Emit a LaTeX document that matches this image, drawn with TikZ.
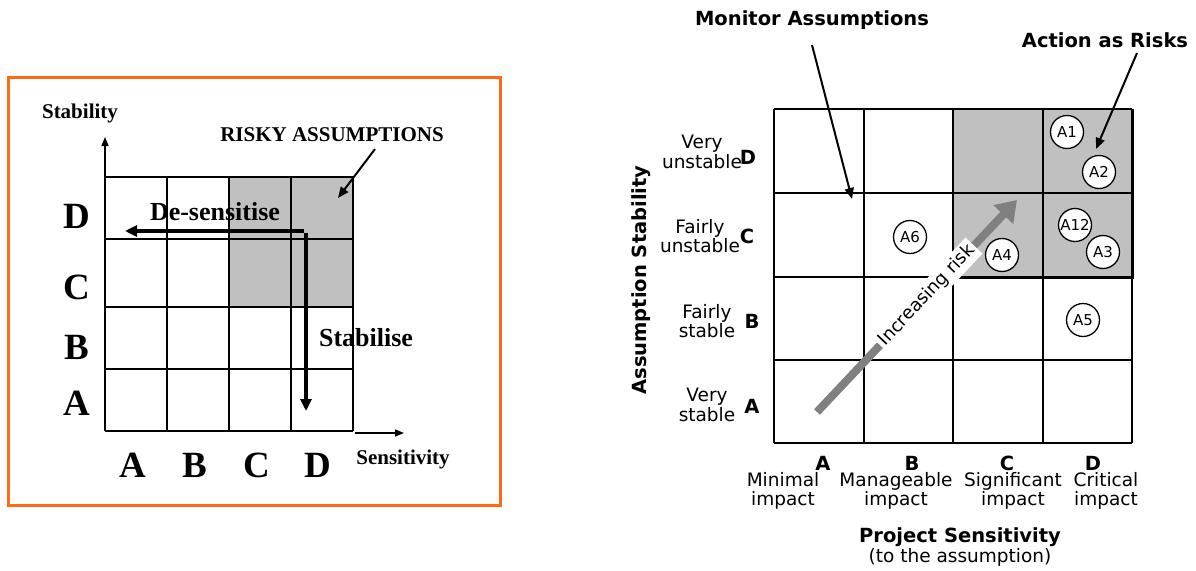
\documentclass[tikz,border=0pt]{standalone}
\usepackage{fontspec}
\setmainfont{Liberation Serif}
\newfontfamily\vsans{DejaVu Sans}
\usetikzlibrary{arrows.meta}
\definecolor{frameorange}{HTML}{FF6A13}
\definecolor{riskgray}{HTML}{C0C0C0}
\definecolor{arrowgray}{HTML}{808080}
\begin{document}
\begin{tikzpicture}[x=1pt, y=-1pt,
	gridline/.style={line width=1.6},
	bigletter/.style={font=\fontsize{37}{37}\selectfont\bfseries, inner sep=0},
	seriflabel/.style={font=\fontsize{21}{21}\selectfont\bfseries, inner sep=0},
	actionlabel/.style={font=\fontsize{26}{26}\selectfont\bfseries, inner sep=0},
	thickarrow/.style={line width=4.5, -{Triangle[length=12, width=11]}},
	thinarrow/.style={line width=2, -{Triangle[length=11, width=9]}},
	sanslabel/.style={font=\vsans\fontsize{18.5}{19.5}\selectfont, align=center, inner sep=0},
	sansbold/.style={font=\vsans\fontsize{19.5}{19.5}\selectfont\bfseries, inner sep=0},
	assumption/.style={circle, draw, fill=white, line width=1.3, minimum size=33, inner sep=0, font=\vsans\fontsize{15}{15}\selectfont},
	riskarrow/.style={arrowgray, line width=8, -{Triangle[length=20, width=26]}},
	risklabel/.style={fill=white, text=black, inner sep=3, font=\vsans\fontsize{18}{18}\selectfont}]
	\useasboundingbox (0,0) rectangle (1196,570);

	% left panel: frame
	\draw[frameorange, line width=3] (8,77) rectangle (500,505);

	% risky cells and grid
	\fill[riskgray] (229,177) rectangle (353,307);
	\foreach \x in {105,167,229,291,353}{
		\draw[gridline] (\x,177) -- (\x,431);
	}
	\foreach \y in {177,239,307,369,431}{
		\draw[gridline] (105,\y) -- (353,\y);
	}

	% axes
	\coordinate (yfoot) at (105,177);
	\coordinate (ytip) at (105,137);
	\coordinate (xfoot) at (355,433);
	\coordinate (xtip) at (404,433);
	\draw[line width=1.5, -{Triangle[length=9, width=7]}] (yfoot) -- (ytip);
	\draw[line width=1.5, -{Triangle[length=9, width=7]}] (xfoot) -- (xtip);

	% row and column letters
	\foreach \l/\y in {A/403, B/347, C/287, D/216}{
		\node[bigletter] (row\l) at (77,\y) {\l};
	}
	\foreach \l/\x in {A/133, B/195, C/257, D/318}{
		\node[bigletter] (col\l) at (\x,465) {\l};
	}

	% left labels
	\node[seriflabel] (stability) at (80,113) {Stability};
	\node[seriflabel] (sensitivity) at (403,459) {Sensitivity};
	\node[seriflabel] (risky) at (332,135) {RISKY ASSUMPTIONS};
	\node[actionlabel] (desens) at (215,212) {De-sensitise};
	\node[actionlabel] (stabilise) at (366,338) {Stabilise};

	% left arrows
	\coordinate (riskytail) at (375,149);
	\coordinate (riskyhead) at (338,198);
	\draw[thinarrow] (riskytail) -- (riskyhead);
	\coordinate (turn) at (306,231);
	\coordinate (desenshead) at (125,231);
	\coordinate (stabhead) at (306,411);
	\draw[thickarrow] ([xshift=-2]turn) -- (desenshead);
	\draw[thickarrow] ([yshift=-2]turn) -- (stabhead);

	% right panel: shaded cells and grid
	\fill[riskgray] (953,109) rectangle (1132,277);
	\foreach \x in {774,864,953,1043,1132}{
		\draw[gridline] (\x,109) -- (\x,443);
	}
	\foreach \y in {109,193,277,360,443}{
		\draw[gridline] (774,\y) -- (1132,\y);
	}
	\draw[line width=3] (953,277) -- (1132,277) -- (1132,109);
	\draw[line width=2.2] (1132,277) -- (1132,443);

	% assumptions
	\node[assumption] (a1) at (1067,132) {A1};
	\node[assumption] (a2) at (1099,172) {A2};
	\node[assumption] (a12) at (1075,225) {A12};
	\node[assumption] (a3) at (1103,252) {A3};
	\node[assumption] (a4) at (1002,255) {A4};
	\node[assumption] (a6) at (910,237) {A6};
	\node[assumption] (a5) at (1083,320) {A5};

	% increasing risk
	\coordinate (risklow) at (817,412);
	\coordinate (riskhigh) at (1017,200);
	\draw[riskarrow] (risklow) -- node[risklabel, sloped, pos=0.55] (incr) {Increasing risk} (riskhigh);

	% right row labels
	\node[sanslabel] (vunst) at (702,152) {Very\\unstable};
	\node[sanslabel] (funst) at (700,236) {Fairly\\unstable};
	\node[sanslabel] (fstab) at (707,321) {Fairly\\stable};
	\node[sanslabel] (vstab) at (707,405) {Very\\stable};
	\node[sansbold] (stabD) at (748,157) {D};
	\node[sansbold] (stabC) at (747,236) {C};
	\node[sansbold] (stabB) at (752,321) {B};
	\node[sansbold] (stabA) at (752,406) {A};
	\node[sansbold, rotate=90] (stabaxis) at (641,280) {Assumption Stability};

	% right column labels
	\node[sansbold] (sensA) at (823,463) {A};
	\node[sansbold] (sensB) at (912,463) {B};
	\node[sansbold] (sensC) at (1007,463) {C};
	\node[sansbold] (sensD) at (1093,463) {D};
	\node[sanslabel] (minimal) at (783,491) {Minimal\\impact};
	\node[sanslabel] (manage) at (896,491) {Manageable\\impact};
	\node[sanslabel] (signif) at (1013,491) {Significant\\impact};
	\node[sanslabel] (critical) at (1106,491) {Critical\\impact};
	\node[sanslabel] (sensaxis) at (960,547) {{\bfseries\fontsize{19.5}{19.5}\selectfont Project Sensitivity}\\(to the assumption)};

	% callouts
	\node[sansbold] (monitor) at (812,20) {Monitor Assumptions};
	\node[sansbold] (action) at (1105,40) {Action as Risks};
	\coordinate (monitortail) at (812,45);
	\coordinate (monitorhead) at (852,199);
	\coordinate (actiontail) at (1137,53);
	\coordinate (actionhead) at (1096,149);
	\draw[thinarrow] (monitortail) -- (monitorhead);
	\draw[thinarrow] (actiontail) -- (actionhead);
\end{tikzpicture}
\end{document}
